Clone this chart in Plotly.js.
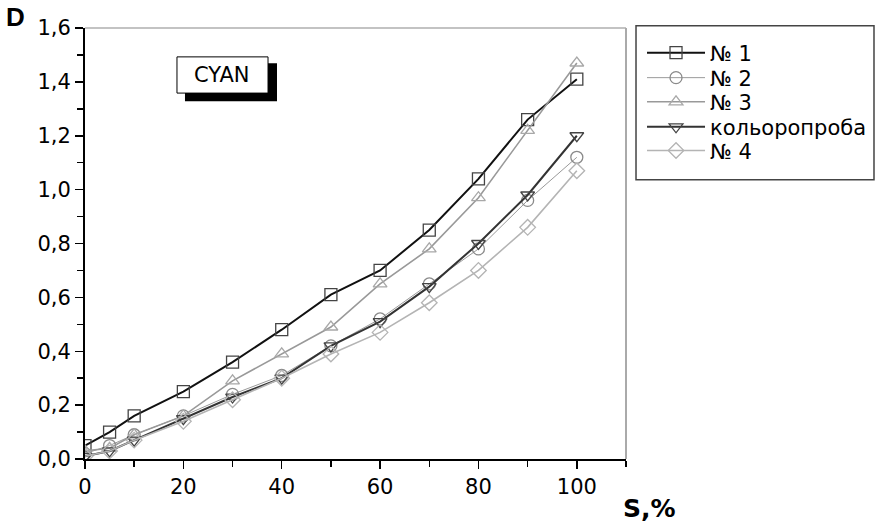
<!DOCTYPE html>
<html>
<head>
<meta charset="utf-8">
<script src="https://cdn.plot.ly/plotly-3.0.1.min.js"></script>
<style>html,body{margin:0;padding:0;background:#fff;}#chart{width:885px;height:530px;}</style>
</head>
<body>
<div id="chart"></div>
<script>
const S = [0, 5, 10, 20, 30, 40, 50, 60, 70, 80, 90, 100];
const seriesNames = ["№ 1", "№ 2", "№ 3", "кольоропроба", "№ 4"];
const d1 = [0.05, 0.10, 0.16, 0.25, 0.36, 0.48, 0.61, 0.70, 0.85, 1.04, 1.26, 1.41];
const d2 = [0.02, 0.05, 0.09, 0.16, 0.24, 0.31, 0.42, 0.52, 0.65, 0.78, 0.96, 1.12];
const d3 = [0.03, 0.04, 0.09, 0.16, 0.29, 0.39, 0.49, 0.65, 0.78, 0.97, 1.22, 1.47];
const dK = [0.01, 0.03, 0.07, 0.15, 0.23, 0.30, 0.42, 0.51, 0.64, 0.80, 0.98, 1.20];
const d4 = [0.01, 0.03, 0.07, 0.14, 0.22, 0.30, 0.39, 0.47, 0.58, 0.70, 0.86, 1.07];
const yTicks = [0, 0.2, 0.4, 0.6, 0.8, 1.0, 1.2, 1.4, 1.6];
const yTickText = ["0,0", "0,2", "0,4", "0,6", "0,8", "1,0", "1,2", "1,4", "1,6"];
const xTicks = [0, 20, 40, 60, 80, 100];

const FONT = "DejaVu Sans, sans-serif";
const styles = [
  {line: "#111111", w: 2, sym: "square-open", mc: "#444444"},
  {line: "#9a9a9a", w: 1, sym: "circle-open", mc: "#8a8a8a"},
  {line: "#999999", w: 1.6, sym: "triangle-up-open", mc: "#a8a8a8"},
  {line: "#333333", w: 2, sym: "triangle-down-open", mc: "#444444"},
  {line: "#b4b4b4", w: 1.6, sym: "diamond-open", mc: "#b4b4b4"}
];
const dataSets = [d1, d2, d3, dK, d4];
const legendIds = ["legend", "legend2", "legend3", "legend4", "legend5"];
const legendY = [0.942, 0.884, 0.828, 0.770, 0.715];

const traces = dataSets.map((d, i) => ({
  x: S, y: d, name: seriesNames[i], type: "scatter", mode: "lines+markers",
  legend: legendIds[i],
  line: {color: styles[i].line, width: styles[i].w},
  marker: {symbol: styles[i].sym, size: 12, color: styles[i].mc, line: {color: styles[i].mc, width: 1.3}}
}));

const layout = {
  width: 885, height: 530,
  margin: {l: 85, r: 259, t: 28, b: 71},
  paper_bgcolor: "#fff", plot_bgcolor: "#fff",
  font: {family: FONT, color: "#000", size: 21},
  showlegend: true,
  xaxis: {range: [0, 110], tickvals: xTicks, ticks: "outside", ticklen: 8, tickwidth: 1.5, tickcolor: "#000",
          showgrid: false, zeroline: false, showline: true, linecolor: "#000", linewidth: 2,
          tickfont: {size: 21, family: FONT, color: "#000"}, fixedrange: true,
          minor: {dtick: 10, tick0: 0, ticks: "outside", ticklen: 6, tickwidth: 1.5, tickcolor: "#000", showgrid: false}},
  yaxis: {range: [0, 1.6], tickvals: yTicks, ticktext: yTickText, ticks: "outside", ticklen: 8, tickwidth: 1.5, tickcolor: "#000",
          showgrid: false, zeroline: false, showline: true, linecolor: "#000", linewidth: 2,
          tickfont: {size: 21, family: FONT, color: "#000"}, fixedrange: true,
          minor: {dtick: 0.1, tick0: 0, ticks: "outside", ticklen: 6, tickwidth: 1.5, tickcolor: "#000", showgrid: false}},
  shapes: [
    {type: "line", xref: "paper", yref: "paper", x0: 0, x1: 1, y0: 1, y1: 1, line: {color: "#888", width: 1.2}},
    {type: "line", xref: "paper", yref: "paper", x0: 1, x1: 1, y0: 0, y1: 1, line: {color: "#aaa", width: 2}},
    {type: "rect", xref: "paper", yref: "paper", x0: 1.0185, x1: 1.4584, y0: 0.648, y1: 1.005,
     line: {color: "#444", width: 1.5}, fillcolor: "rgba(0,0,0,0)"},
    {type: "rect", xref: "paper", yref: "paper", x0: 0.1848, x1: 0.3549, y0: 0.830, y1: 0.918,
     line: {width: 0}, fillcolor: "#000"},
    {type: "rect", xref: "paper", yref: "paper", x0: 0.1700, x1: 0.3383, y0: 0.849, y1: 0.933,
     line: {color: "#000", width: 1}, fillcolor: "#fff"}
  ],
  annotations: [
    {text: "CYAN", xref: "paper", yref: "paper", x: 0.2541, y: 0.891, xanchor: "center", yanchor: "middle",
     showarrow: false, font: {size: 21, color: "#000", family: FONT}},
    {text: "<b>D</b>", xref: "paper", yref: "paper", x: -0.150, y: 1.025, xanchor: "left", yanchor: "middle",
     showarrow: false, font: {size: 26, family: "Liberation Sans, Arial, sans-serif"}},
    {text: "<b>S,%</b>", xref: "paper", yref: "paper", x: 0.9908, y: -0.116, xanchor: "left", yanchor: "middle",
     showarrow: false, font: {size: 25, family: FONT}}
  ]
};

legendIds.forEach((id, i) => {
  layout[id] = {x: 1.0296, y: legendY[i], xanchor: "left", yanchor: "middle", bgcolor: "rgba(0,0,0,0)",
                borderwidth: 0, font: {size: 21, color: "#000", family: FONT}, itemwidth: 58};
});

Plotly.newPlot("chart", traces, layout, {displayModeBar: false, staticPlot: true});
</script>
</body>
</html>
